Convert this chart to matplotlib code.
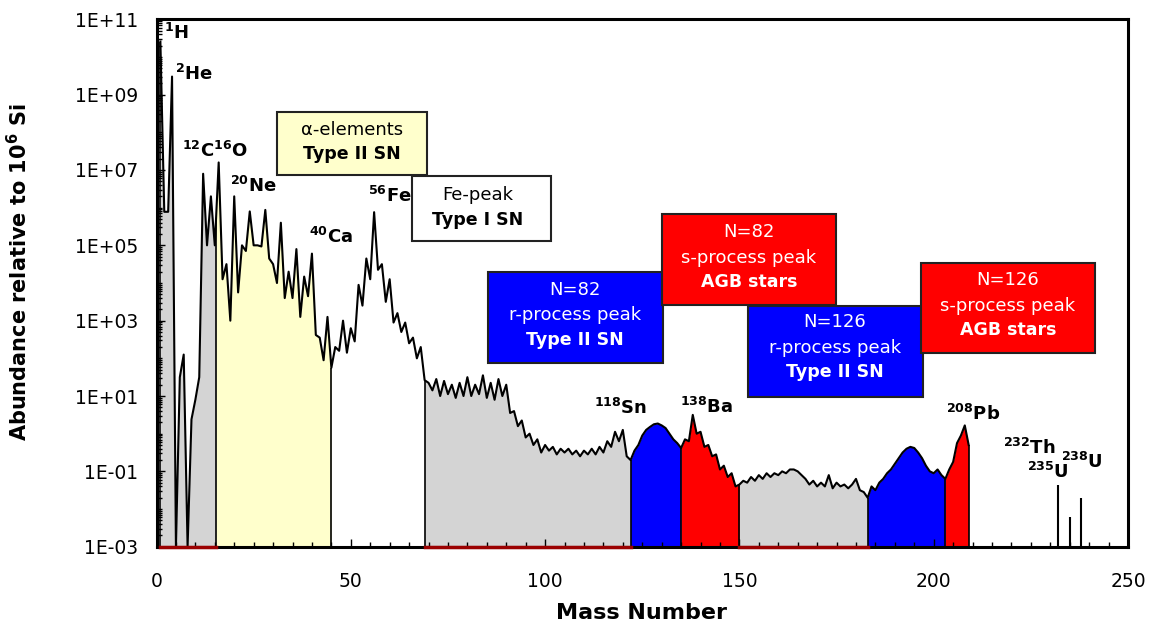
import numpy as np
import matplotlib
matplotlib.use('Agg')
import matplotlib.pyplot as plt
from matplotlib.patches import Rectangle
from matplotlib.ticker import FixedLocator, MultipleLocator, LogLocator, NullFormatter

plt.rcParams['font.family'] = ['DejaVu Sans']
plt.rcParams['mathtext.default'] = 'regular'

# log10 of abundance relative to 1e6 Si, mass numbers 1..209 (-3 = nothing, axis floor)
mass = np.arange(1, 210)
log_abund = [
    10.41, 5.89, 5.89, 9.48, -3.0, 1.5, 2.1, -3.0, 0.38, 0.9,
    1.5, 6.9, 5.0, 6.3, 5.0, 7.2, 4.1, 4.5, 3.0, 6.3,
    3.75, 5.0, 4.85, 5.9, 5.0, 5.0, 4.97, 5.94, 4.65, 4.5,
    4.0, 5.6, 3.6, 4.3, 3.6, 4.9, 3.1, 4.17, 3.65, 4.78,
    2.62, 2.55, 1.95, 3.1, 1.75, 2.3, 2.2, 3.0, 2.15, 2.8,
    2.45, 3.95, 3.4, 4.65, 4.1, 5.88, 4.35, 4.5, 3.5, 4.1,
    2.95, 3.2, 2.7, 2.95, 2.4, 2.55, 2.0, 2.3, 1.42, 1.35,
    1.15, 1.45, 1.0, 1.4, 1.05, 1.3, 0.95, 1.35, 1.0, 1.5,
    1.0, 1.3, 1.05, 1.55, 0.95, 1.35, 0.9, 1.45, 1.0, 1.3,
    0.55, 0.6, 0.2, 0.35, -0.1, 0.0, -0.3, -0.15, -0.5, -0.3,
    -0.45, -0.35, -0.55, -0.4, -0.5, -0.4, -0.55, -0.45, -0.6, -0.45,
    -0.55, -0.4, -0.55, -0.35, -0.5, -0.2, -0.35, 0.05, -0.2, 0.1,
    -0.6, -0.7, -0.45, -0.3, -0.05, 0.1, 0.18, 0.25, 0.27, 0.22,
    0.15, 0.0, -0.15, -0.25, -0.38, -0.15, -0.2, 0.5, 0.0, 0.05,
    -0.35, -0.3, -0.6, -0.55, -0.95, -0.85, -1.15, -1.05, -1.4, -1.35,
    -1.25, -1.3, -1.15, -1.25, -1.1, -1.2, -1.05, -1.15, -1.05, -1.1,
    -1.0, -1.05, -0.95, -0.95, -1.0, -1.1, -1.2, -1.35, -1.25, -1.4,
    -1.3, -1.4, -1.1, -1.45, -1.3, -1.4, -1.35, -1.45, -1.35, -1.2,
    -1.5, -1.55, -1.7, -1.4, -1.5, -1.3, -1.2, -1.05, -0.95, -0.8,
    -0.65, -0.5, -0.4, -0.35, -0.38, -0.5, -0.65, -0.85, -1.0, -1.05,
    -0.95, -1.1, -1.2, -0.95, -0.75, -0.25, -0.05, 0.22, -0.3,
]
actinide_mass = [232, 235, 238]
actinide_log = [-1.36, -2.2, -1.72]

# shaded mass ranges and their colours (None = left white)
region_edges = [1, 15.3, 45, 69, 122, 135, 150, 183, 203, 209]
region_colors = ['#d4d4d4', '#ffffcc', None, '#d4d4d4', '#0000ff',
                 '#ff0000', '#d4d4d4', '#0000ff', '#ff0000']

iso_labels = ['$^{1}$H', '$^{2}$He', '$^{12}$C$^{16}$O', '$^{20}$Ne', '$^{40}$Ca',
              '$^{56}$Fe', '$^{118}$Sn', '$^{138}$Ba', '$^{208}$Pb', '$^{232}$Th',
              '$^{235}$U', '$^{238}$U']
iso_x = [5.0, 9.7, 15.1, 24.9, 45.0, 60.1, 119.4, 141.5, 210.1, 224.5, 229.4, 238.1]
iso_logy = [10.64, 9.55, 7.5, 6.57, 5.22, 6.31, 0.68, 0.71, 0.52, -0.38, -1.02, -0.75]

xticks = [0, 50, 100, 150, 200, 250]
ytick_exp = [-3, -1, 1, 3, 5, 7, 9, 11]
ytick_labels = ['1E-03', '1E-01', '1E+01', '1E+03', '1E+05', '1E+07', '1E+09', '1E+11']

W, H = 1154, 630
fig = plt.figure(figsize=(W / 100, H / 100), dpi=100)
ax = fig.add_axes([156.5 / W, 1 - 546.7 / H, 971.5 / W, 527.4 / H])
floor = 1e-3

la = np.array(log_abund)
for a, b, c in zip(region_edges[:-1], region_edges[1:], region_colors):
    if c is None:
        continue
    xs = np.linspace(a, b, 300)
    ax.fill_between(xs, floor, 10 ** np.interp(xs, mass, la), color=c, lw=0, zorder=1)

ax.plot(mass, 10 ** la, color='black', lw=1.5, zorder=3)
edges = np.array(region_edges)
ax.vlines(edges, floor, 10 ** np.interp(edges, mass, la), color='black', lw=1.2, zorder=3)
ax.vlines(actinide_mass, floor, 10 ** np.array(actinide_log), color='black', lw=1.5, zorder=3)

# dark red strip along the floor under the grey ranges
for a, b, c in zip(region_edges[:-1], region_edges[1:], region_colors):
    if c == '#d4d4d4':
        ax.plot([a, b], [floor, floor], color='#9b0000', lw=2.5, zorder=4, clip_on=False)

for t, x, y in zip(iso_labels, iso_x, iso_logy):
    ax.text(x, 10 ** y, t, ha='center', va='center', fontsize=13, fontweight='bold', zorder=6)

ax.set_yscale('log')
ax.set_xlim(0, 250)
ax.set_ylim(1e-3, 1e11)
ax.xaxis.set_major_locator(FixedLocator(xticks))
ax.xaxis.set_minor_locator(MultipleLocator(5))
ax.set_yticks(10.0 ** np.array(ytick_exp))
ax.set_yticklabels(ytick_labels)
ax.yaxis.set_minor_locator(LogLocator(base=10, subs=np.arange(1, 10), numticks=100))
ax.yaxis.set_minor_formatter(NullFormatter())
ax.tick_params(which='both', direction='in', width=1)
ax.tick_params(which='major', length=6)
ax.tick_params(which='minor', length=3.5)
ax.tick_params(axis='y', labelsize=13.5, pad=13)
ax.tick_params(axis='x', labelsize=13.5, pad=18)
for s in ax.spines.values():
    s.set_linewidth(2.2)

ax.set_xlabel('Mass Number', fontsize=16, fontweight='bold')
ax.xaxis.set_label_coords(0.4993, -0.107)
ax.set_ylabel('Abundance relative to 10$^{6}$ Si', fontsize=15, fontweight='bold')
ax.yaxis.set_label_coords(-0.129, 0.521)

# annotation boxes, given in reference pixel positions
boxes = [
    ((277, 112, 427, 175), '#ffffcc', 'black', 352,
     [('α-elements', 'normal', 130), ('Type II SN', 'bold', 154)]),
    ((412, 176, 551, 241), 'white', 'black', 478,
     [('Fe-peak', 'normal', 195), ('Type I SN', 'bold', 220)]),
    ((488, 272, 663, 363), '#0000ff', 'white', 575,
     [('N=82', 'normal', 290), ('r-process peak', 'normal', 315), ('Type II SN', 'bold', 340)]),
    ((662, 214, 836, 305), '#ff0000', 'white', 749,
     [('N=82', 'normal', 232), ('s-process peak', 'normal', 258), ('AGB stars', 'bold', 282)]),
    ((748, 306, 923, 397), '#0000ff', 'white', 835,
     [('N=126', 'normal', 322), ('r-process peak', 'normal', 348), ('Type II SN', 'bold', 372)]),
    ((921, 263, 1095, 353), '#ff0000', 'white', 1008,
     [('N=126', 'normal', 280), ('s-process peak', 'normal', 306), ('AGB stars', 'bold', 330)]),
]
for (x0, y0, x1, y1), fc, tc, cx, lines in boxes:
    fig.add_artist(Rectangle((x0 / W, 1 - y1 / H), (x1 - x0) / W, (y1 - y0) / H,
                             transform=fig.transFigure, facecolor=fc,
                             edgecolor='#222222', lw=1.5, zorder=5))
    for txt, wt, ty in lines:
        fig.text(cx / W, 1 - ty / H, txt, ha='center', va='center', color=tc,
                 fontsize=12.5 if wt == 'bold' else 13, fontweight=wt, zorder=6)

fig.savefig('out.png', dpi=100)
